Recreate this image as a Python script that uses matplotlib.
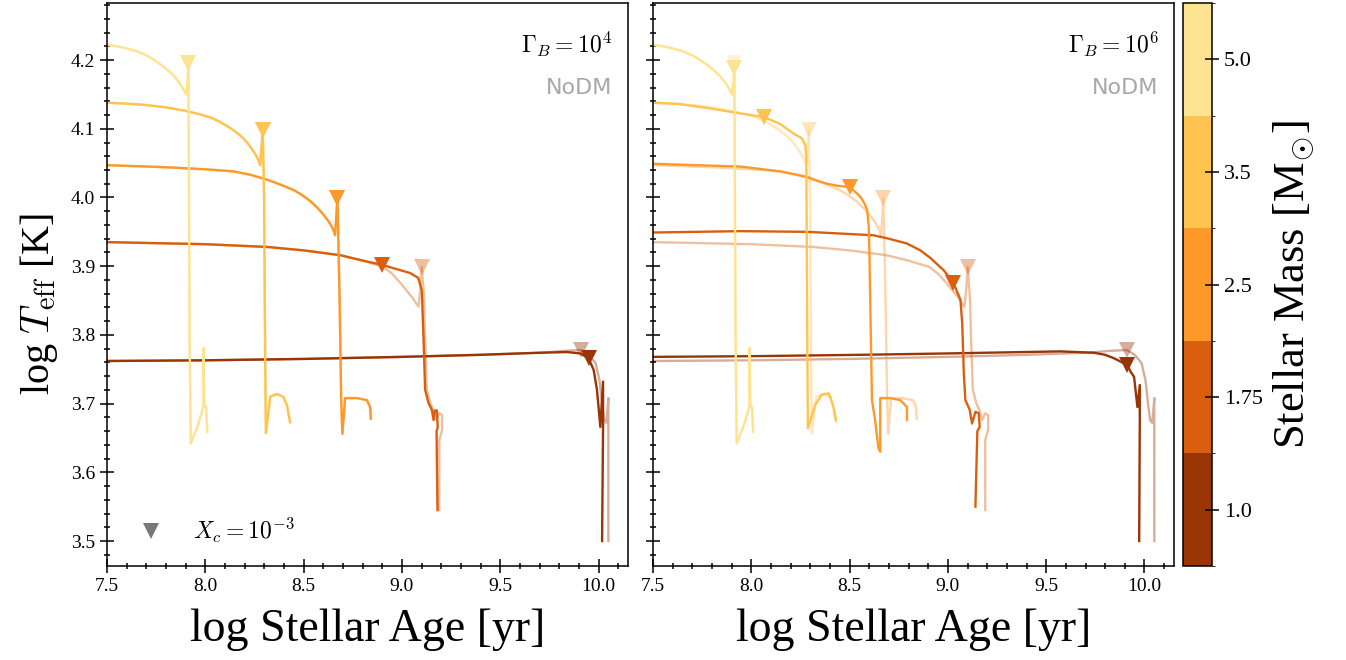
import numpy as np
import matplotlib
matplotlib.use("Agg")
import matplotlib.pyplot as plt
from matplotlib.colors import ListedColormap, BoundaryNorm
from matplotlib.cm import ScalarMappable
from matplotlib.ticker import MultipleLocator

plt.rcParams['font.family'] = ['Liberation Serif', 'DejaVu Serif']
plt.rcParams['mathtext.fontset'] = 'cm'

masses = [1.0, 1.75, 2.5, 3.5, 5.0]
colors = ['#993404', '#d95f0e', '#fe9929', '#fec44f', '#fee391']

# tracks without dark matter (log age [yr], log Teff [K]), one list per mass
age_nodm = [
    [7.5, 8.0, 8.5, 9.0, 9.4, 9.7, 9.84, 9.91, 9.95, 9.985, 10.005, 10.02, 10.03, 10.04, 10.05, 10.05],
    [7.5, 8.0, 8.314, 8.5, 8.686, 8.788, 8.905, 8.95, 8.991, 9.051, 9.084, 9.093, 9.101, 9.113, 9.118,
     9.127, 9.144, 9.164, 9.174, 9.190, 9.205, 9.205, 9.190, 9.190],
    [7.5, 7.804, 8.0, 8.143, 8.23, 8.313, 8.38, 8.448, 8.49, 8.533, 8.57, 8.601, 8.625, 8.644, 8.655,
     8.660, 8.672, 8.683, 8.691, 8.697, 8.711, 8.771, 8.822, 8.838, 8.842],
    [7.5, 7.634, 7.70, 7.804, 7.90, 7.973, 8.03, 8.075, 8.11, 8.143, 8.17, 8.194, 8.215, 8.236, 8.25,
     8.262, 8.272, 8.279, 8.292, 8.299, 8.304, 8.308, 8.330, 8.364, 8.396, 8.415, 8.431],
    [7.50, 7.55, 7.60, 7.65, 7.70, 7.74, 7.78, 7.81, 7.84, 7.86, 7.875, 7.888, 7.897, 7.902, 7.910,
     7.914, 7.917, 7.920, 7.926, 7.963, 7.990, 7.990, 7.995, 8.004, 8.010],
]
teff_nodm = [
    [3.762, 3.763, 3.765, 3.768, 3.771, 3.774, 3.777, 3.778, 3.771, 3.759, 3.734, 3.695, 3.675, 3.672, 3.708, 3.50],
    [3.935, 3.932, 3.928, 3.923, 3.916, 3.909, 3.899, 3.889, 3.876, 3.855, 3.841, 3.865, 3.899, 3.851,
     3.793, 3.720, 3.701, 3.688, 3.676, 3.686, 3.683, 3.662, 3.647, 3.545],
    [4.047, 4.044, 4.041, 4.038, 4.033, 4.026, 4.019, 4.011, 4.004, 3.995, 3.985, 3.975, 3.966, 3.957,
     3.950, 3.945, 3.999, 3.851, 3.705, 3.656, 3.708, 3.708, 3.705, 3.695, 3.678],
    [4.138, 4.136, 4.1345, 4.131, 4.126, 4.121, 4.116, 4.110, 4.104, 4.098, 4.092, 4.086, 4.079, 4.071,
     4.065, 4.059, 4.053, 4.047, 4.098, 4.0, 3.78, 3.657, 3.710, 3.714, 3.710, 3.698, 3.673],
    [4.222, 4.220, 4.217, 4.213, 4.207, 4.200, 4.192, 4.185, 4.177, 4.170, 4.164, 4.158, 4.153, 4.150,
     4.170, 4.196, 4.00, 3.80, 3.642, 3.669, 3.695, 3.781, 3.700, 3.694, 3.659],
]
xc_age_nodm = [9.91, 9.101, 8.672, 8.292, 7.914]
xc_teff_nodm = [3.778, 3.899, 3.999, 4.098, 4.196]

# Gamma_B = 1e4 (the three heavier tracks are unchanged)
age_g4 = [
    [7.5, 8.0, 8.5, 9.0, 9.4, 9.7, 9.84, 9.907, 9.949, 9.975, 9.992, 10.0, 10.009, 10.023, 10.023, 10.018],
    [7.5, 8.0, 8.314, 8.5, 8.686, 8.788, 8.898, 9.042, 9.083, 9.101, 9.110, 9.118, 9.135, 9.152, 9.161,
     9.167, 9.178, 9.182, 9.176, 9.181],
    age_nodm[2], age_nodm[3], age_nodm[4],
]
teff_g4 = [
    [3.762, 3.763, 3.765, 3.768, 3.771, 3.774, 3.775, 3.773, 3.766, 3.749, 3.720, 3.695, 3.666, 3.732, 3.670, 3.50],
    [3.935, 3.932, 3.928, 3.923, 3.916, 3.909, 3.902, 3.890, 3.883, 3.865, 3.793, 3.720, 3.701, 3.691,
     3.676, 3.690, 3.690, 3.665, 3.660, 3.545],
    teff_nodm[2], teff_nodm[3], teff_nodm[4],
]
xc_age_g4 = [9.949, 8.898, 8.672, 8.292, 7.914]
xc_teff_g4 = [3.766, 3.902, 3.999, 4.098, 4.196]

# Gamma_B = 1e6
age_g6 = [
    [7.5, 8.0, 8.555, 9.0, 9.573, 9.743, 9.80, 9.845, 9.913, 9.930, 9.947, 9.964, 9.976, 9.976, 9.973],
    [7.5, 7.943, 8.283, 8.622, 8.70, 8.792, 8.86, 8.911, 8.979, 9.028, 9.064, 9.073, 9.081, 9.089,
     9.111, 9.123, 9.140, 9.157, 9.162, 9.150, 9.140],
    [7.5, 7.943, 8.147, 8.283, 8.34, 8.385, 8.44, 8.50, 8.538, 8.56, 8.578, 8.589, 8.597, 8.601, 8.605,
     8.614, 8.630, 8.647, 8.656, 8.656, 8.707, 8.758, 8.792, 8.792],
    [7.5, 7.634, 7.804, 7.973, 8.065, 8.147, 8.215, 8.258, 8.275, 8.280, 8.283, 8.286, 8.288, 8.325,
     8.359, 8.393, 8.402, 8.418, 8.431],
    age_nodm[4],
]
teff_g6 = [
    [3.768, 3.769, 3.771, 3.773, 3.776, 3.774, 3.771, 3.766, 3.756, 3.746, 3.739, 3.695, 3.727, 3.670, 3.50],
    [3.949, 3.951, 3.950, 3.945, 3.940, 3.933, 3.923, 3.912, 3.894, 3.876, 3.851, 3.817, 3.744, 3.705,
     3.691, 3.671, 3.688, 3.686, 3.666, 3.660, 3.550],
    [4.049, 4.045, 4.038, 4.030, 4.024, 4.020, 4.017, 4.015, 4.006, 3.999, 3.990, 3.982, 3.960, 3.920,
     3.851, 3.705, 3.676, 3.635, 3.630, 3.708, 3.708, 3.705, 3.695, 3.676],
    [4.138, 4.136, 4.129, 4.121, 4.117, 4.107, 4.093, 4.086, 4.076, 4.059, 3.90, 3.75, 3.664, 3.698,
     3.713, 3.715, 3.710, 3.695, 3.676],
    [4.222, 4.220, 4.217, 4.213, 4.207, 4.200, 4.192, 4.185, 4.177, 4.170, 4.164, 4.158, 4.153, 4.150,
     4.168, 4.188, 4.00, 3.80, 3.642, 3.669, 3.695, 3.781, 3.700, 3.694, 3.659],
]
xc_age_g6 = [9.913, 9.028, 8.50, 8.065, 7.914]
xc_teff_g6 = [3.756, 3.876, 4.015, 4.117, 4.188]

panels = [
    (r'$\Gamma_B = 10^4$', age_g4, teff_g4, xc_age_g4, xc_teff_g4),
    (r'$\Gamma_B = 10^6$', age_g6, teff_g6, xc_age_g6, xc_teff_g6),
]

fig = plt.figure(figsize=(13.46, 6.60), dpi=100)
ax1 = fig.add_axes([0.0795, 0.1424, 0.3871, 0.8530])
ax2 = fig.add_axes([0.4851, 0.1424, 0.3871, 0.8530])
cax = fig.add_axes([0.8789, 0.1424, 0.0215, 0.8530])

for ax, (title, ages, teffs, xa, xt) in zip([ax1, ax2], panels):
    for i in range(len(masses)):
        ax.plot(age_nodm[i], teff_nodm[i], color=colors[i], lw=1.7, alpha=0.4, zorder=1)
        ax.plot(xc_age_nodm[i], xc_teff_nodm[i], 'v', color=colors[i], ms=12, mew=0, alpha=0.4, zorder=3)
    for i in range(len(masses)):
        ax.plot(ages[i], teffs[i], color=colors[i], lw=1.7, zorder=2)
        ax.plot(xa[i], xt[i], 'v', color=colors[i], ms=12, mew=0, zorder=4)

    ax.set_xlim(7.5, 10.15)
    ax.set_ylim(3.4636, 4.283)
    ax.xaxis.set_major_locator(MultipleLocator(0.5))
    ax.xaxis.set_minor_locator(MultipleLocator(0.1))
    ax.yaxis.set_major_locator(MultipleLocator(0.1))
    ax.yaxis.set_minor_locator(MultipleLocator(0.02))
    ax.tick_params(which='both', direction='inout', top=False, right=False, labelsize=14, width=1.1)
    ax.tick_params(which='major', length=10)
    ax.tick_params(which='minor', length=5)
    for s in ax.spines.values():
        s.set_linewidth(1.1)
    ax.set_xlabel('log Stellar Age [yr]', fontsize=33, labelpad=10)
    ax.text(0.97, 0.912, title, transform=ax.transAxes, ha='right', va='baseline', fontsize=17)
    ax.text(0.97, 0.867, 'NoDM', transform=ax.transAxes, ha='right', va='top',
            fontsize=16, color='#a8a8a8', family='DejaVu Sans')

ax1.set_ylabel(r'log $T_{\rm eff}$ [K]', fontsize=29)
ax1.yaxis.set_label_coords(-0.09, 0.465)
ax2.tick_params(labelleft=False)

ax1.plot([], [], 'v', color='#777777', ms=12, mew=0, label=r'$X_c = 10^{-3}$')
ax1.legend(loc='lower left', frameon=False, fontsize=17, handletextpad=0.78, borderaxespad=0.47)

cmap = ListedColormap(colors)
norm = BoundaryNorm(np.arange(len(masses) + 1), cmap.N)
cb = fig.colorbar(ScalarMappable(norm=norm, cmap=cmap), cax=cax,
                  ticks=np.arange(len(masses)) + 0.5)
cb.set_ticklabels([str(m) for m in masses])
cb.ax.tick_params(direction='inout', length=10, width=1.1, labelsize=16)
cb.outline.set_linewidth(1.1)
cb.set_label(r'Stellar Mass [M$_{\odot}$]', fontsize=32, labelpad=6)

fig.savefig('out.png', dpi=100)
